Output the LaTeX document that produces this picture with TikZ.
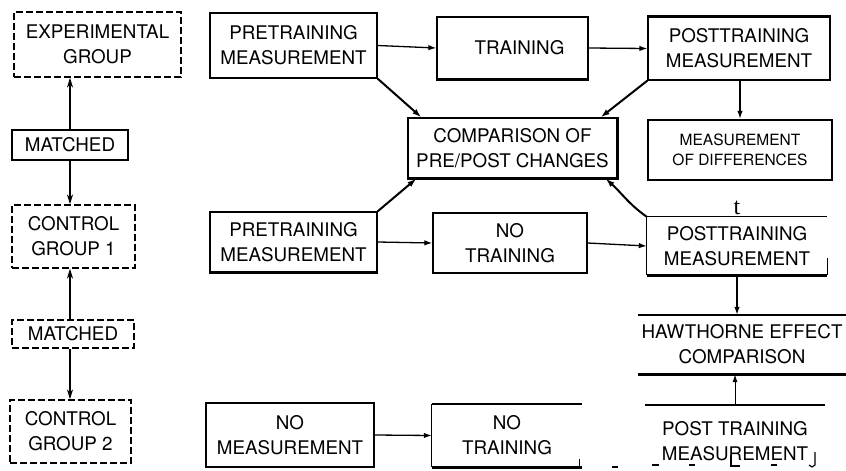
\documentclass[tikz,border=0pt]{standalone}
\usepackage{fontspec}
\setmainfont{TeX Gyre Heros}
\newfontfamily\serifletter{Liberation Serif}
\usetikzlibrary{arrows.meta,calc}
\begin{document}
\begin{tikzpicture}[x=1pt,y=-1pt,
  lbl/.style={font=\fontsize{18.8}{25}\selectfont, align=center, inner sep=0pt},
  small/.style={font=\fontsize{15.5}{20}\selectfont, align=center, inner sep=0pt},
  box/.style={draw, line width=1.3pt},
  dbox/.style={draw, line width=1.3pt, dash pattern=on 7pt off 3pt},
  heavy/.style={line width=2.6pt},
  rule/.style={line width=1.3pt},
  link/.style={line width=1.3pt, -{Latex[length=8pt,width=5.5pt]}},
  slant/.style={line width=2pt, -{Latex[length=9pt,width=6pt]}},
  pair/.style={line width=2.6pt, -{Stealth[length=10pt,width=6pt]}}]
\useasboundingbox (0,0) rectangle (846,471);

% left column: the three groups and their matching
\node[lbl, dbox, minimum width=167pt, minimum height=65pt] (exp) at (97.5,44.5) {EXPERIMENTAL\\GROUP};
\node[lbl, box, minimum width=116pt, minimum height=30pt] (m1) at (70,145) {MATCHED};
\node[lbl, dbox, minimum width=123pt, minimum height=63pt] (cg1) at (73.5,236.5) {CONTROL\\GROUP 1};
\node[lbl, dbox, minimum width=122pt, minimum height=28pt] (m2) at (73,334) {MATCHED};
\node[lbl, dbox, minimum width=121pt, minimum height=63pt] (cg2) at (70.5,431.5) {CONTROL\\GROUP 2};

\draw[pair] (m1.north -| 70,0) -- (exp.south -| 70,0);
\draw[pair] (m1.south -| 70,0) -- (cg1.north -| 70,0);
\draw[pair] (m2.north -| 70,0) -- (cg1.south -| 70,0);
\draw[pair] (m2.south -| 70,0) -- (cg2.north -| 70,0);

% experimental group row
\node[lbl, box, minimum width=167pt, minimum height=65pt] (pre1) at (293.5,45.5) {PRETRAINING\\MEASUREMENT};
\node[lbl, box, minimum width=151pt, minimum height=62pt] (train) at (512.5,48) {\hspace*{14pt}TRAINING};
\draw[heavy] (train.south west) -- (train.south east);
\node[lbl, box, minimum width=182pt, minimum height=63pt] (post1) at (739,48.5) {POSTTRAINING\\MEASUREMENT};
\draw[heavy] (post1.north west) -- (post1.north east);
\node[small, box, line width=2.4pt, minimum width=184pt, minimum height=60pt] (diff) at (740,150) {MEASUREMENT\\OF DIFFERENCES};

\draw[link] (pre1.east) -- (train.west);
\draw[link] (train.east) -- (post1.west);
\draw[link] (post1.south -| diff.north) -- (diff.north);

% pre/post comparison
\node[lbl, box, minimum width=209pt, minimum height=60pt] (comp) at (512.5,148) {COMPARISON OF\\PRE/POST CHANGES};
\draw[heavy] (comp.south west) -- (comp.south east) -- (comp.north east);

\draw[slant] (pre1.south east) -- ([xshift=14pt]comp.north west);
\draw[slant] (post1.south west) -- ([xshift=-17pt]comp.north east);

% control group 1 row
\node[lbl, box, minimum width=167pt, minimum height=60pt] (pre2) at (293.5,242) {PRETRAINING\\MEASUREMENT};
\draw[heavy] (pre2.south west) -- (pre2.south east);
\node[lbl, box, minimum width=154pt, minimum height=60pt] (notr1) at (510,243) {NO\\TRAINING};
\node[lbl, minimum width=180pt, minimum height=58pt] (post2) at (737,246) {POSTTRAINING\\MEASUREMENT};
\draw[rule] (post2.north west) -- (post2.north east);
\draw[rule] (post2.north west) -- (post2.south west);
\draw[heavy] (post2.south west) -- (post2.south east);
\draw[rule] ([yshift=17pt]post2.south east) -- (post2.south east);
\node[font=\serifletter\fontsize{24}{24}\selectfont, inner sep=0pt, anchor=south] (tmark) at (737,215) {t};

\draw[slant] (pre2.north east) -- ([xshift=9pt]comp.south west);
\draw[slant] (post2.north west) to[out=145, in=-42] ([xshift=-12pt]comp.south east);
\draw[link] (pre2.east) -- (notr1.west);
\draw[link] (notr1.east) -- (post2.west);

% Hawthorne comparison
\node[lbl, minimum width=208pt, minimum height=59pt] (haw) at (742,344.5) {HAWTHORNE EFFECT\\COMPARISON};
\draw[heavy] (haw.north west) -- (haw.north east);
\draw[heavy] (haw.south west) -- (haw.south east);
\draw[link] (post2.south) -- (post2.south |- haw.north);

% control group 2 row
\node[lbl, box, line width=2.2pt, minimum width=168pt, minimum height=64pt] (nomeas) at (290,435) {NO\\MEASUREMENT};
\node[lbl, minimum width=150pt, minimum height=63pt] (notr2) at (507,435.5) {NO\\TRAINING};
\draw[rule] (notr2.north west) -- (notr2.south west);
\draw[heavy] (notr2.north west) -- (notr2.north east);
\draw[heavy] (notr2.south west) -- (notr2.south east);
\draw[rule] ([xshift=-3pt]notr2.south east) -- ([xshift=-3pt,yshift=8pt]notr2.south east);
\draw[link] (nomeas.east) -- (notr2.west);

\node[lbl, minimum width=180pt, minimum height=72pt] (post3) at (735,441) {POST TRAINING\\MEASUREMENT};
\draw[heavy] (post3.north west) -- (post3.north east);
\draw[line width=1pt, -{Latex[length=8pt,width=5pt]}] (post3.north) -- (post3.north |- haw.south);

% broken lower border under the last measurement
\draw[line width=1.2pt] (612,467) -- (618,467);
\draw[line width=1.2pt] (652,465) -- (659,465);
\draw[line width=1.2pt] (689,465) -- (695,465);
\draw[line width=1.2pt] (731,455) -- (731,466) -- (740,466);
\draw[line width=1.2pt] (771,465) -- (777,465);
\draw[line width=1.2pt] (815,452) -- (815,465) -- (812,467) -- (809,465);
\end{tikzpicture}
\end{document}
